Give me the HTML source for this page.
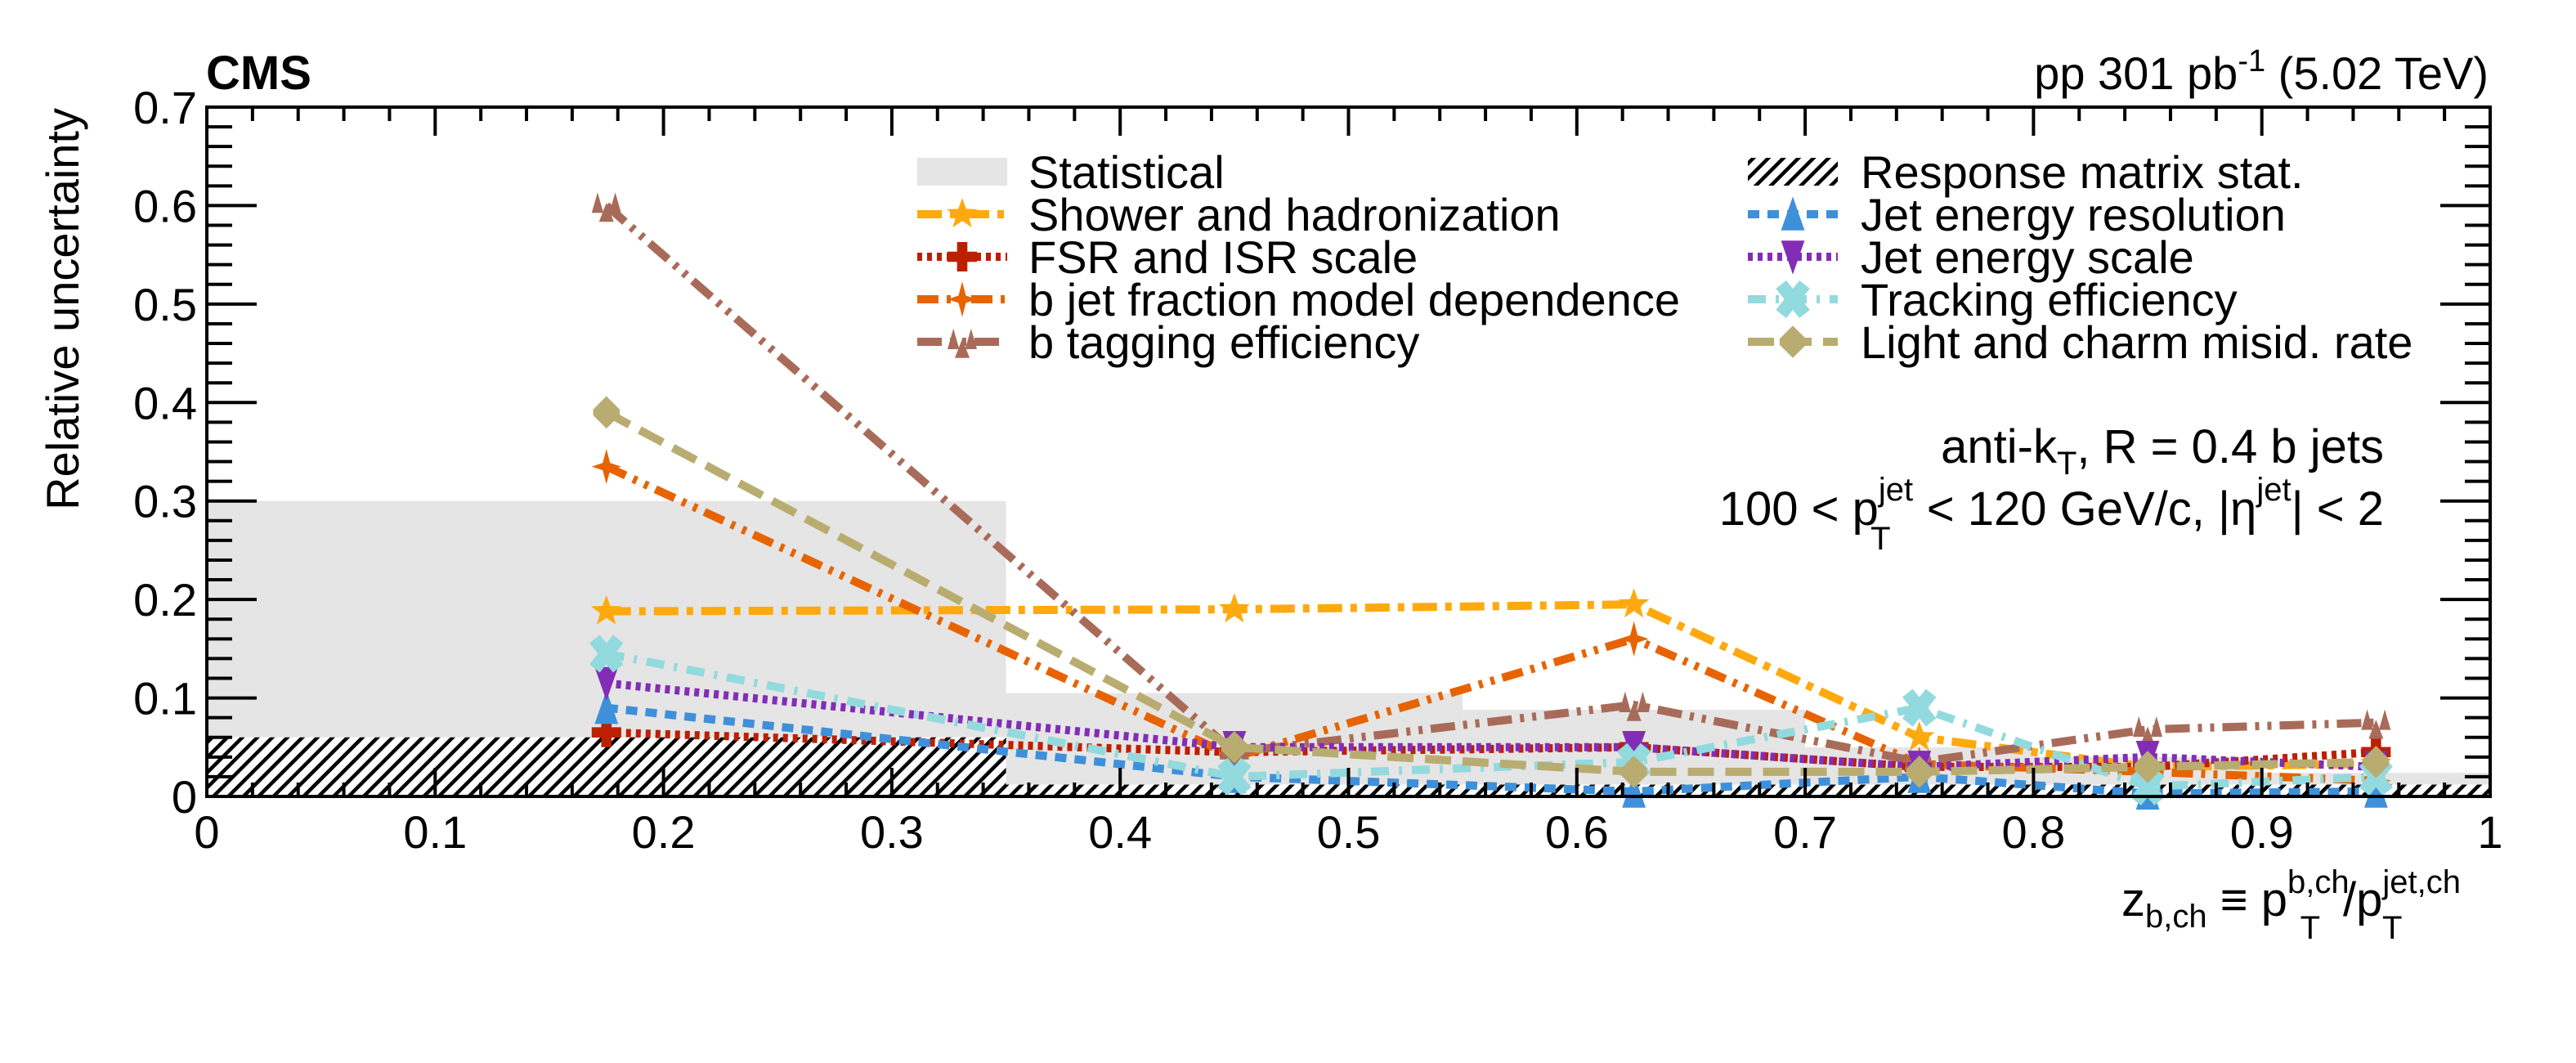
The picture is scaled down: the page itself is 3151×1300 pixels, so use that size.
<!DOCTYPE html>
<html><head><meta charset="utf-8"><style>
body{margin:0;background:#fff}
svg{display:block;font-family:"Liberation Sans",sans-serif}
</style></head><body>
<svg id="c" width="3151" height="1300" viewBox="0 0 3151 1300" xmlns="http://www.w3.org/2000/svg">
<defs>
<pattern id="hatch" patternUnits="userSpaceOnUse" width="13" height="13" patternTransform="rotate(45)">
<rect width="13" height="13" fill="#fff"/><rect width="4.5" height="13" fill="#000"/></pattern>
</defs>
<g id="plot"></g>
<text x="252" y="109" font-size="58" font-weight="bold">CMS</text>
<text x="3044" y="109" font-size="56" text-anchor="end">pp 301 pb<tspan dy="-22" font-size="38">-1</tspan><tspan dy="22"> (5.02 TeV)</tspan></text>
<text transform="translate(96,132) rotate(-90)" font-size="56" text-anchor="end">Relative uncertainty</text>
<text x="3010" y="1120" font-size="58" text-anchor="end">z<tspan dy="14" font-size="40">b,ch</tspan><tspan dy="-14"> ≡ p</tspan><tspan dy="-28" font-size="40">b,ch</tspan><tspan dx="-60" dy="56" font-size="40">T</tspan><tspan dx="28" dy="-28">/p</tspan><tspan dy="-28" font-size="40">jet,ch</tspan><tspan dx="-96" dy="56" font-size="40">T</tspan></text>
<text x="2916" y="566" font-size="58" text-anchor="end">anti-k<tspan dy="14" font-size="40">T</tspan><tspan dy="-14">, R = 0.4 b jets</tspan></text>
<text x="2916" y="642" font-size="58" text-anchor="end">100 &lt; p<tspan dy="-30" font-size="40">jet</tspan><tspan dx="-52" dy="60" font-size="40">T</tspan><tspan dx="28" dy="-30"> &lt; 120 GeV/c, |η</tspan><tspan dy="-30" font-size="40">jet</tspan><tspan dy="30">| &lt; 2</tspan></text>
</svg>
<script>
const xPts=[0.175,0.45,0.625,0.75,0.85,0.95];
const statEdges=[0,0.35,0.55,0.7,0.8,0.9,1.0];
const statVals=[0.30,0.105,0.088,0.05,0.04,0.024];
const respVals=[0.06,0.012,0.012,0.012,0.012,0.012];
const shower=[0.188,0.19,0.195,0.06,0.03,0.033];
const fsr=[0.065,0.045,0.05,0.03,0.03,0.045];
const bfrac=[0.335,0.04,0.16,0.033,0.025,0.016];
const btag=[0.60,0.045,0.093,0.035,0.068,0.075];
const jer=[0.09,0.02,0.005,0.02,0.003,0.005];
const jes=[0.115,0.05,0.05,0.03,0.04,0.03];
const trk=[0.145,0.02,0.035,0.09,0.01,0.02];
const light=[0.39,0.05,0.025,0.025,0.03,0.035];
const xTicks=[0,0.1,0.2,0.3,0.4,0.5,0.6,0.7,0.8,0.9,1];
const xTickLabels=["0","0.1","0.2","0.3","0.4","0.5","0.6","0.7","0.8","0.9","1"];
const yTicks=[0,0.1,0.2,0.3,0.4,0.5,0.6,0.7];
const yTickLabels=["0","0.1","0.2","0.3","0.4","0.5","0.6","0.7"];

const X0=253,X1=3046,Y0=974,Y1=131;
const sx=v=>X0+(X1-X0)*v, sy=v=>Y0-(Y0-Y1)*v/0.7;
const NS="http://www.w3.org/2000/svg";
const g=document.getElementById('plot');
function mk(t,a,p){const e=document.createElementNS(NS,t);for(const k in a)e.setAttribute(k,a[k]);(p||g).appendChild(e);return e;}

for(let i=0;i<statVals.length;i++){
 const r=mk('rect',{x:sx(statEdges[i]),y:sy(statVals[i]),width:sx(statEdges[i+1])-sx(statEdges[i]),height:Y0-sy(statVals[i]),fill:'#e5e5e5'});
 
 
}
for(let i=0;i<respVals.length;i++){
 const r=mk('rect',{x:sx(statEdges[i]),y:sy(respVals[i]),width:sx(statEdges[i+1])-sx(statEdges[i]),height:Y0-sy(respVals[i]),fill:'url(#hatch)'});
 
 
}

function marker(kind,cx,cy,col,s,p){
 s=s||17;
 if(kind==='star'){let pts=[];for(let k=0;k<10;k++){const r=k%2?s*0.45:s*1.1,a=-Math.PI/2+k*Math.PI/5;pts.push((cx+r*Math.cos(a)).toFixed(1)+','+(cy+r*Math.sin(a)).toFixed(1));}return mk('polygon',{points:pts.join(' '),fill:col},p);}
 if(kind==='cross'){const w=s*0.35;return mk('path',{d:`M${cx-w},${cy-s}h${2*w}v${s-w}h${s-w}v${2*w}h${-(s-w)}v${s-w}h${-2*w}v${-(s-w)}h${-(s-w)}v${-2*w}h${s-w}z`,fill:col},p);}
 if(kind==='cstar'){return mk('path',{d:`M${cx},${cy-s*1.2}L${cx+s*0.25},${cy-s*0.25}L${cx+s},${cy}L${cx+s*0.25},${cy+s*0.25}L${cx},${cy+s*1.2}L${cx-s*0.25},${cy+s*0.25}L${cx-s},${cy}L${cx-s*0.25},${cy-s*0.25}z`,fill:col},p);}
 if(kind==='dtri'){return mk('path',{d:`M${cx-s*0.8},${cy-s*1.1}L${cx+s*0.8},${cy-s*1.1}L${cx},${cy+s*1.2}z`,fill:col},p);}
 if(kind==='utri'){return mk('path',{d:`M${cx-s*0.8},${cy+s*1.1}L${cx+s*0.8},${cy+s*1.1}L${cx},${cy-s*1.2}z`,fill:col},p);}
 if(kind==='twotri'){mk('path',{d:`M${cx-s},${cy+s*0.5}L${cx-s*0.2},${cy+s*0.5}L${cx-s*0.6},${cy-s*0.9}z M${cx+s*0.2},${cy+s*0.5}L${cx+s},${cy+s*0.5}L${cx+s*0.6},${cy-s*0.9}z M${cx-s*0.5},${cy+s*1.1}L${cx+s*0.5},${cy+s*1.1}L${cx},${cy-s*0.2}z`,fill:col},p);return;}
 if(kind==='xcross'){const e=mk('g',{},p);mk('path',{d:`M${cx-s*0.8},${cy-s}L${cx+s*0.8},${cy+s}M${cx+s*0.8},${cy-s}L${cx-s*0.8},${cy+s}`,stroke:col,'stroke-width':s*0.9},e);mk('rect',{x:cx-s*0.6,y:cy-s*0.6,width:s*1.2,height:s*1.2,fill:col},e);return e;}
 if(kind==='diamond'){return mk('path',{d:`M${cx},${cy-s*1.1}L${cx+s*0.9},${cy-s*0.2}L${cx+s*0.9},${cy+s*0.2}L${cx},${cy+s*1.1}L${cx-s*0.9},${cy+s*0.2}L${cx-s*0.9},${cy-s*0.2}z`,fill:col},p);}
}
const series=[
 {n:'shower',vals:shower,col:'#ffa90e',dash:'30 10 8 10',m:'star',label:'Shower and hadronization'},
 {n:'fsr-isr',vals:fsr,col:'#bd1f01',dash:'6 6',m:'cross',label:'FSR and ISR scale'},
 {n:'b-jet-fraction',vals:bfrac,col:'#e76300',dash:'26 10 5 10 5 10',m:'cstar',label:'b jet fraction model dependence'},
 {n:'b-tagging',vals:btag,col:'#a96b59',dash:'30 10 5 10 5 10',m:'twotri',label:'b tagging efficiency'},
 {n:'jer',vals:jer,col:'#3f90da',dash:'14 10',m:'utri',label:'Jet energy resolution'},
 {n:'jes',vals:jes,col:'#832db6',dash:'6 6',m:'dtri',label:'Jet energy scale'},
 {n:'tracking',vals:trk,col:'#92dadd',dash:'22 12 4 12',m:'xcross',label:'Tracking efficiency'},
 {n:'light-charm',vals:light,col:'#b9ac70',dash:'32 14',m:'diamond',label:'Light and charm misid. rate'}
];
series.forEach(s=>{
 const sg=mk('g',{});
 
 
 const pts=s.vals.map((v,i)=>sx(xPts[i]).toFixed(1)+','+sy(v).toFixed(1)).join(' ');
 mk('polyline',{points:pts,fill:'none',stroke:s.col,'stroke-width':10,'stroke-dasharray':s.dash},sg);
 s.vals.forEach((v,i)=>marker(s.m,sx(xPts[i]),sy(v),s.col,18,sg));
});

const ax=mk('g',{stroke:'#000','stroke-width':4,fill:'none'});


mk('rect',{x:X0,y:Y1,width:X1-X0,height:Y0-Y1},ax);
for(let k=0;k<=50;k++){const v=k/50,L=k%5?17:35;
 mk('line',{x1:sx(v),y1:Y0,x2:sx(v),y2:Y0-L},ax);mk('line',{x1:sx(v),y1:Y1,x2:sx(v),y2:Y1+L},ax);}
for(let k=0;k<=35;k++){const v=k*0.02,L=k%5?31:61;
 mk('line',{x1:X0,y1:sy(v),x2:X0+L,y2:sy(v)},ax);mk('line',{x1:X1,y1:sy(v),x2:X1-L,y2:sy(v)},ax);}
xTicks.forEach((v,i)=>{const t=mk('text',{x:sx(v),y:1037,'font-size':56,'text-anchor':'middle'});t.textContent=xTickLabels[i];
 
 });
yTicks.forEach((v,i)=>{const t=mk('text',{x:241,y:sy(v)+20,'font-size':56,'text-anchor':'end'});t.textContent=yTickLabels[i];
 
 });

const lg=mk('g',{});


const col1=[{t:'Statistical',box:'#e5e5e5'}].concat(series.slice(0,4));
const col2=[{t:'Response matrix stat.',box:'url(#hatch)'}].concat(series.slice(4));
[[col1,1122,1258],[col2,2138,2276]].forEach(([items,sxp,tx])=>{
 items.forEach((it,i)=>{const y=210+i*52;
  const e=mk('g',{},lg);
  
  
  if(it.box){mk('rect',{x:sxp,y:y-17,width:110,height:34,fill:it.box},e);}
  else{mk('line',{x1:sxp,y1:y,x2:sxp+110,y2:y,stroke:it.col,'stroke-width':10,'stroke-dasharray':it.dash},e);marker(it.m,sxp+55,y,it.col,18,e);}
  const t=mk('text',{x:tx,y:y+20,'font-size':56},e);t.textContent=it.t||it.label;
 });
});
</script>
</body></html>
